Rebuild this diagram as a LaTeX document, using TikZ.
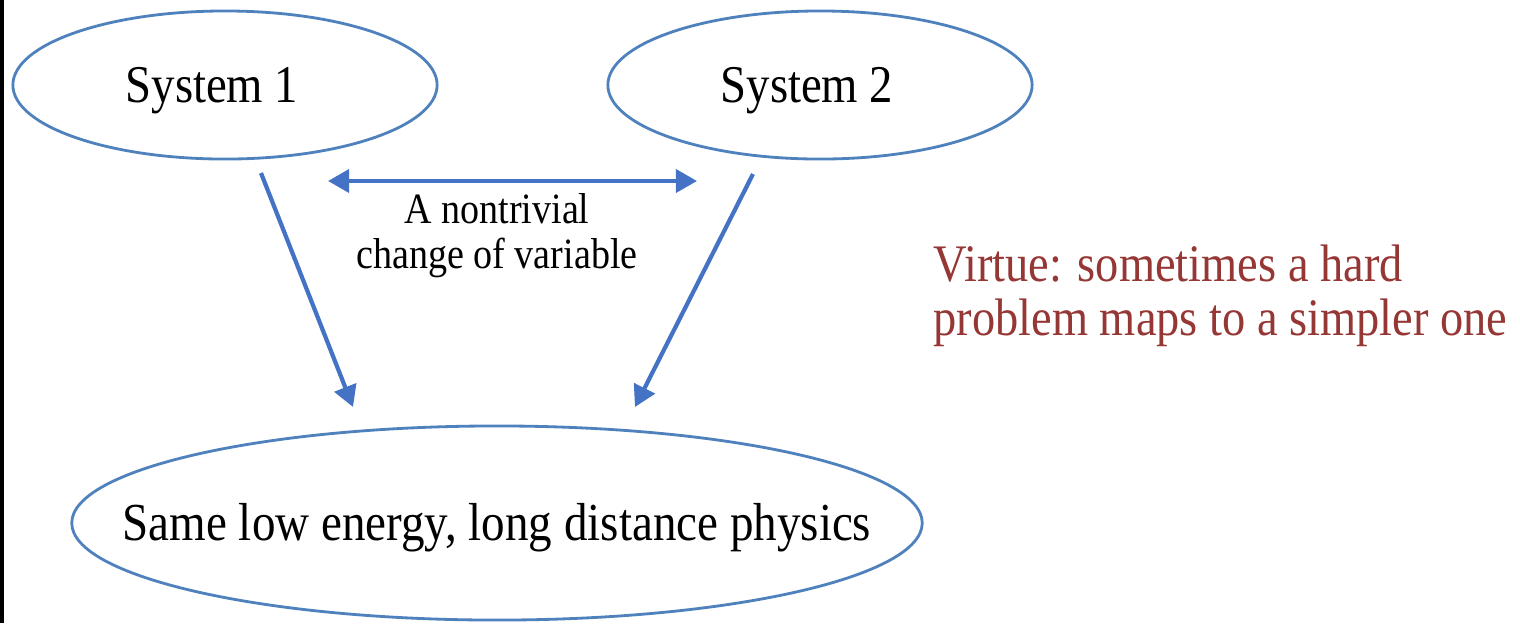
\documentclass[tikz,border=0pt]{standalone}
\usepackage{fontspec}
\setmainfont[FakeStretch=0.88]{Liberation Serif}
\definecolor{SlideBlue}{RGB}{79,129,189}
\definecolor{ArrowBlue}{RGB}{68,114,196}
\definecolor{VirtueRed}{RGB}{149,55,53}
\usetikzlibrary{
    shapes.geometric,
    arrows.meta,
    positioning,
}

\begin{document}
\begin{tikzpicture}[
    x=0.01cm, y=-0.01cm,
    sys/.style={ellipse, draw=SlideBlue, line width=0.8pt, inner sep=0pt, minimum width=4.24cm, minimum height=1.48cm},
    big/.style={ellipse, draw=SlideBlue, line width=0.8pt, inner sep=0pt, minimum width=8.5cm, minimum height=1.94cm},
    lbl/.style={anchor=base, inner sep=0pt, font=\fontsize{15.1}{17}\selectfont},
    note/.style={align=center, inner sep=0pt, font=\fontsize{12.3}{12.8}\selectfont},
    virtue/.style={align=left, anchor=north west, inner sep=0pt, text=VirtueRed, font=\fontsize{15}{15.4}\selectfont},
    link/.style={draw=ArrowBlue, line width=1.2pt, -{Triangle[length=6pt, width=6.5pt]}},
    both/.style={draw=ArrowBlue, line width=1.2pt, {Triangle[length=6pt, width=6.5pt]}-{Triangle[length=6pt, width=6.5pt]}}
]
    \useasboundingbox (0,0) rectangle (1520,623);
    \fill[black] (0,0) rectangle (4,623);

    \node[sys] (sys1) at (225,85) {};
    \node[sys] (sys2) at (820,85) {};
    \node[big] (phys) at (497,523) {};
    \node[lbl] (sys1txt) at (212,102) {System 1};
    \node[lbl] (sys2txt) at (807,102) {System 2};
    \node[lbl, font=\fontsize{15.2}{17}\selectfont] (physt) at (497,540) {Same low energy, long distance physics};

    \node[note] (cov) at (497,236) {A nontrivial\\change of variable};
    \node[virtue] (virt) at (933,244) {Virtue: sometimes a hard\\problem maps to a simpler one};

    \coordinate (s1a) at (261,173);
    \coordinate (s1b) at (353,407);
    \coordinate (s2a) at (753,174);
    \coordinate (s2b) at (635,407);
    \coordinate (cl) at (328,181);
    \coordinate (cr) at (697,181);
    \draw[link] (s1a) -- (s1b);
    \draw[link] (s2a) -- (s2b);
    \draw[both] (cl) -- (cr);
\end{tikzpicture}
\end{document}
